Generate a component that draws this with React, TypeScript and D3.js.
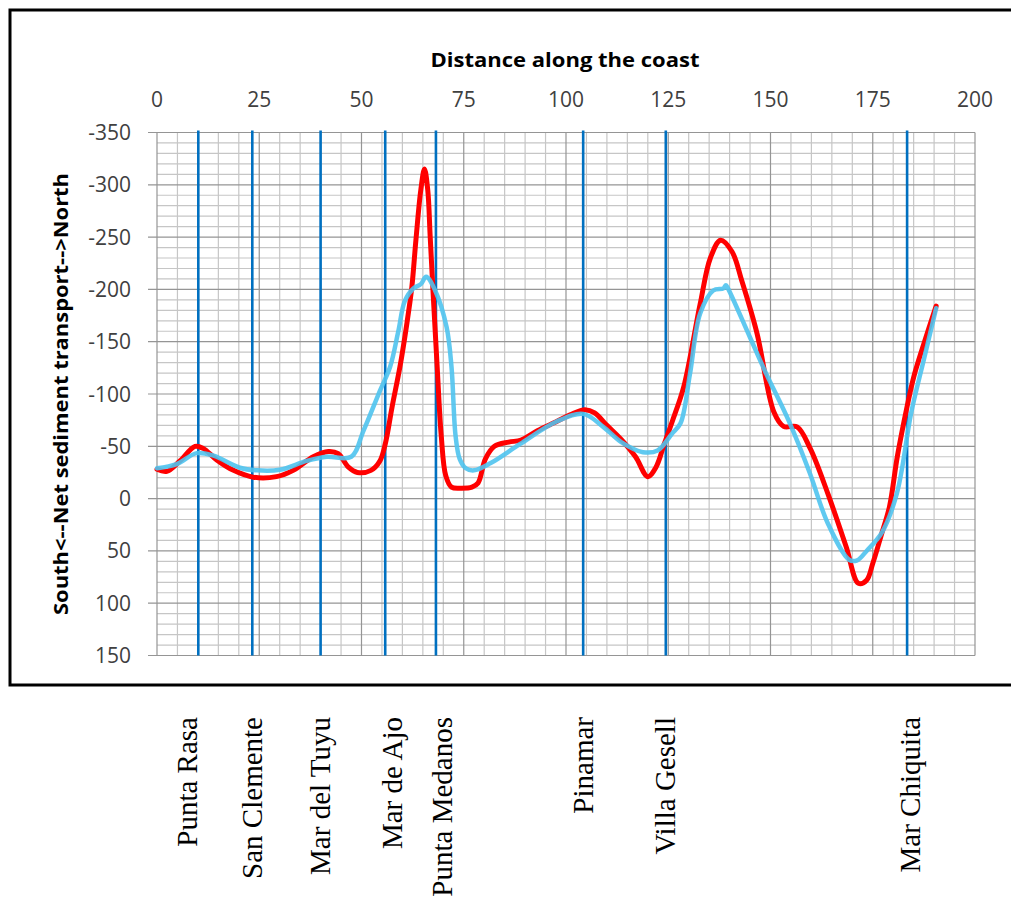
import React from "react";
import * as d3 from "d3";

const xTicks = [0, 25, 50, 75, 100, 125, 150, 175, 200];
const yTicks = [-350, -300, -250, -200, -150, -100, -50, 0, 50, 100, 150];

const stationNames = ["Punta Rasa", "San Clemente", "Mar del Tuyu", "Mar de Ajo", "Punta Medanos", "Pinamar", "Villa Gesell", "Mar Chiquita"];
const stationKm = [10.1, 23.3, 40.0, 55.8, 68.2, 104.2, 124.4, 183.4];
const labelKm = [7.5, 23.3, 40.0, 57.6, 69.7, 104.2, 124.3, 184.3];

const redKm = [0, 2.4, 5.6, 9.3, 11.3, 14.6, 18.7, 23.5, 29.2, 33.3, 38.2, 41.9, 44.3, 46.8, 49, 52.3, 54.5, 55.8, 57.5, 59.4, 61, 62.3, 63.3, 64.5, 65.4, 66.2, 66.8, 67.6, 68.5, 69.5, 70.6, 72, 74.5, 77, 78.5, 80.3, 82.5, 86, 89, 93, 97.6, 101, 104.6, 107, 110, 113.5, 117, 120, 122, 124, 126, 128.8, 132.8, 135.3, 137.8, 140.6, 143, 146.7, 150.8, 153.2, 156.5, 159.7, 164, 168.5, 171.5, 173.5, 175, 177, 179.1, 181, 183.4, 185, 187.5, 190.5];
const redQ = [-28, -26, -36, -50, -48, -37, -27, -20.5, -21, -27, -40, -45, -43, -30, -25, -27, -36, -52, -88, -126, -165, -202, -247, -295, -315, -295, -250, -190, -126, -60, -22, -11, -10, -11, -15, -38, -50, -54, -56, -65, -73.5, -80, -85, -82, -70, -56.5, -40, -21, -30, -52, -74, -107, -186, -230, -247, -236, -208, -158, -83, -69, -68.5, -48, -5, 46, 81, 78, 62, 36, 7.5, -40, -88, -116, -148, -184];

const cyanKm = [0, 4.8, 9.7, 13.8, 20.3, 24.4, 30, 36.6, 41.5, 47.5, 50.5, 54.5, 57, 59, 60.6, 62.7, 64.5, 65.8, 68, 70.8, 72, 73, 74, 75.5, 77.5, 81.6, 88.7, 97.6, 104.2, 109.1, 113.5, 118.8, 122.4, 125.9, 128, 130.3, 132.8, 136, 138.5, 139.1, 139.6, 145, 149, 154.5, 159.6, 164, 169.3, 171.2, 173.5, 177.3, 180.9, 184.4, 187.5, 190.5];
const cyanQ = [-29, -33, -43.5, -41, -29.5, -27, -27.5, -36, -40, -40, -65, -103, -126, -160, -189, -201, -205, -212, -199, -164, -126, -60, -38, -29, -27, -34, -52, -73.5, -81, -68.6, -54, -44.4, -46, -62, -72, -119, -177, -199, -201, -204, -201, -154, -119, -74, -24.5, 23.5, 58.7, 59, 50, 32, -5, -82, -133, -182];

const W = 1011;
const H = 906;

export default function App() {
  const x = d3.scaleLinear().domain([0, 200]).range([157, 975]);
  const y = d3.scaleLinear().domain([-350, 150]).range([132.5, 655.5]);

  const minorX = d3.range(0, 201, 5);
  const minorY = d3.range(-350, 151, 10);

  const line = d3
    .line<[number, number]>()
    .x((d) => x(d[0]))
    .y((d) => y(d[1]))
    .curve(d3.curveCatmullRom.alpha(0.5));

  const redPts = redKm.map((k, i) => [k, redQ[i]] as [number, number]);
  const cyanPts = cyanKm.map((k, i) => [k, cyanQ[i]] as [number, number]);

  const sans = "'Open Sans', 'DejaVu Sans', sans-serif";
  const serif = "'Liberation Serif', 'Times New Roman', serif";

  return (
    <svg width={W} height={H} style={{ position: "absolute", left: 0, top: 0, background: "#fff" }}>
      <rect x={0} y={0} width={W} height={H} fill="#fff" />
      {/* frame */}
      <rect x={10} y={10} width={1020} height={675} fill="none" stroke="#000" strokeWidth={3} />

      {/* minor grid */}
      <g stroke="#c6c6c6" strokeWidth={1.2}>
        {minorX.filter((v) => v % 25 !== 0).map((v) => (
          <line key={"mx" + v} x1={x(v)} x2={x(v)} y1={y(-350)} y2={y(150)} />
        ))}
        {minorY.filter((v) => v % 50 !== 0).map((v) => (
          <line key={"my" + v} x1={x(0)} x2={x(200)} y1={y(v)} y2={y(v)} />
        ))}
      </g>
      {/* major grid */}
      <g stroke="#959595" strokeWidth={1.2}>
        {xTicks.map((v) => (
          <line key={"Mx" + v} x1={x(v)} x2={x(v)} y1={y(-350)} y2={y(150)} />
        ))}
        {yTicks.map((v) => (
          <line key={"My" + v} x1={x(0) - 9} x2={x(200)} y1={y(v)} y2={y(v)} />
        ))}
      </g>

      {/* station lines */}
      <g stroke="#0070C0" strokeWidth={2.6}>
        {stationKm.map((k, i) => (
          <line key={"st" + i} x1={x(k)} x2={x(k)} y1={y(-352)} y2={y(150)} />
        ))}
      </g>

      {/* curves */}
      <path d={line(redPts) || ""} fill="none" stroke="#FF0000" strokeWidth={5} strokeLinejoin="round" strokeLinecap="round" />
      <path d={line(cyanPts) || ""} fill="none" stroke="#4FC3EE" strokeWidth={4.5} strokeOpacity={0.9} strokeLinejoin="round" strokeLinecap="round" />

      {/* x tick labels */}
      <g fontFamily={sans} fontSize={21} fill="#404040" textAnchor="middle">
        {xTicks.map((v) => (
          <text key={"xt" + v} x={x(v)} y={107}>
            {v}
          </text>
        ))}
      </g>
      {/* y tick labels */}
      <g fontFamily={sans} fontSize={21} fill="#404040" textAnchor="end">
        {yTicks.map((v) => (
          <text key={"yt" + v} x={131} y={y(v)} dy="0.36em">
            {v}
          </text>
        ))}
      </g>

      {/* titles */}
      <text x={565} y={67} textAnchor="middle" fontFamily={sans} fontWeight="bold" fontSize={20} fill="#000" textLength={269} lengthAdjust="spacingAndGlyphs">
        Distance along the coast
      </text>
      <text transform="translate(68,394) rotate(-90)" textAnchor="middle" fontFamily={sans} fontWeight="bold" fontSize={20} fill="#000" textLength={442} lengthAdjust="spacingAndGlyphs">
        {"South<--Net sediment transport-->North"}
      </text>

      {/* station labels */}
      <g fontFamily={serif} fontSize={29} fill="#000" textAnchor="end">
        {stationNames.map((n, i) => (
          <text key={"lb" + i} transform={`translate(${x(labelKm[i])},717) rotate(-90)`} dy="0.33em">
            {n}
          </text>
        ))}
      </g>
    </svg>
  );
}
